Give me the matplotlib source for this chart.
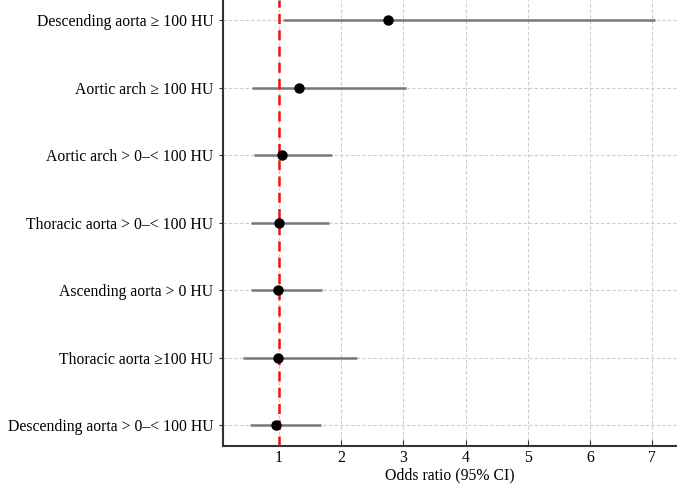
import matplotlib.pyplot as plt

plt.switch_backend("agg")
plt.rcParams["font.family"] = ["Liberation Serif", "DejaVu Serif"]

# rows listed from top to bottom
labels = [
    "Descending aorta \u2265 100 HU",
    "Aortic arch \u2265 100 HU",
    "Aortic arch > 0\u2013< 100 HU",
    "Thoracic aorta > 0\u2013< 100 HU",
    "Ascending aorta > 0 HU",
    "Thoracic aorta \u2265100 HU",
    "Descending aorta > 0\u2013< 100 HU",
]
odds = [2.75, 1.32, 1.05, 1.00, 0.98, 0.98, 0.95]
ci_low = [1.06, 0.56, 0.60, 0.55, 0.55, 0.42, 0.53]
ci_high = [7.04, 3.05, 1.85, 1.81, 1.69, 2.26, 1.68]
xticks = [1, 2, 3, 4, 5, 6, 7]

n = len(labels)
ypos = [n - 1 - i for i in range(n)]

fig = plt.figure(figsize=(6.77, 4.87), dpi=100, facecolor="white")
ax = fig.add_axes([223 / 677, 41.3 / 487, 454 / 677, 445.7 / 487])

ax.hlines(ypos, ci_low, ci_high, color="#777777", linewidth=1.8, zorder=3)
ax.axvline(1, color="#ee1111", linestyle=(0, (4, 2.5)), linewidth=1.8, zorder=4)
ax.plot(odds, ypos, "o", color="black", markersize=6.5, zorder=5)

ax.set_xlim(0.1, 7.4)
ax.set_ylim(-0.3, n - 0.7)
ax.set_xticks(xticks)
ax.set_yticks(ypos)
ax.set_yticklabels(labels, fontsize=11.3)
ax.tick_params(axis="x", labelsize=11.3, direction="in", length=4, color="#333333", pad=3)
ax.tick_params(axis="y", direction="out", length=3, color="#333333", pad=4)
ax.set_xlabel("Odds ratio (95% CI)", fontsize=11.3, labelpad=1)

ax.grid(True, linestyle=(0, (3, 2)), color="#cccccc", linewidth=0.8, zorder=0)
ax.set_axisbelow(True)

for side in ("top", "right"):
    ax.spines[side].set_visible(False)
for side in ("left", "bottom"):
    ax.spines[side].set_linewidth(1.5)
    ax.spines[side].set_color("#333333")

fig.savefig("out.png", dpi=100)
